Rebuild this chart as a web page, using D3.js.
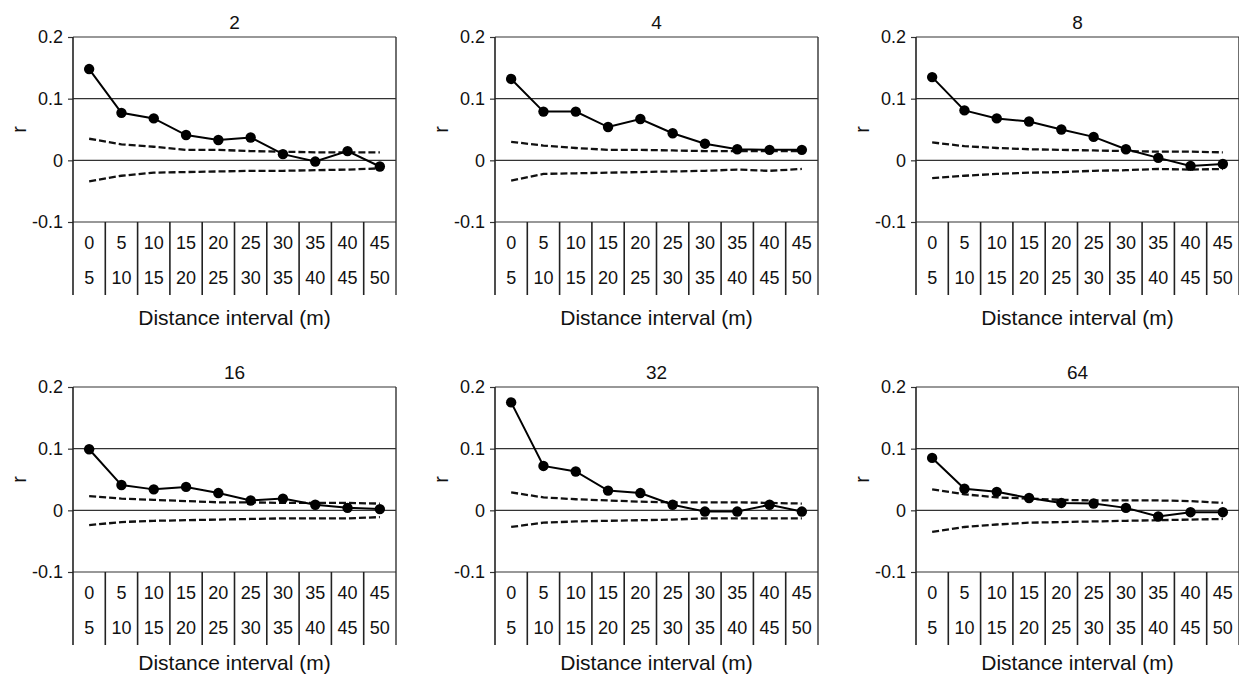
<!DOCTYPE html>
<html>
<head>
<meta charset="utf-8">
<script src="https://cdn.jsdelivr.net/npm/d3@7"></script>
<style>
  html, body { margin: 0; padding: 0; background: #fff; }
  svg { display: block; }
</style>
</head>
<body>
<div id="chart"></div>
<script>
// panel titles and distance classes
var panelNames = ['2', '4', '8', '16', '32', '64'];
var intervalFrom = [0, 5, 10, 15, 20, 25, 30, 35, 40, 45];
var intervalTo = [5, 10, 15, 20, 25, 30, 35, 40, 45, 50];
var yTicks = [-0.1, 0, 0.1, 0.2];

// observed r per panel
var r2 = [0.148, 0.077, 0.068, 0.041, 0.033, 0.037, 0.010, -0.002, 0.015, -0.010];
var r4 = [0.132, 0.079, 0.079, 0.054, 0.067, 0.044, 0.027, 0.018, 0.017, 0.017];
var r8 = [0.135, 0.081, 0.068, 0.063, 0.050, 0.038, 0.018, 0.004, -0.009, -0.006];
var r16 = [0.099, 0.041, 0.034, 0.038, 0.028, 0.016, 0.019, 0.009, 0.004, 0.002];
var r32 = [0.175, 0.072, 0.063, 0.032, 0.028, 0.009, -0.002, -0.002, 0.009, -0.002];
var r64 = [0.085, 0.035, 0.030, 0.020, 0.012, 0.011, 0.004, -0.010, -0.003, -0.003];

// upper 95% envelope
var up2 = [0.035, 0.026, 0.022, 0.017, 0.017, 0.015, 0.014, 0.013, 0.013, 0.013];
var up4 = [0.030, 0.024, 0.020, 0.017, 0.017, 0.016, 0.015, 0.015, 0.015, 0.015];
var up8 = [0.029, 0.023, 0.020, 0.018, 0.017, 0.016, 0.015, 0.014, 0.014, 0.013];
var up16 = [0.023, 0.019, 0.017, 0.015, 0.013, 0.013, 0.012, 0.012, 0.012, 0.011];
var up32 = [0.029, 0.021, 0.018, 0.016, 0.014, 0.013, 0.013, 0.013, 0.012, 0.011];
var up64 = [0.034, 0.026, 0.021, 0.019, 0.017, 0.016, 0.016, 0.016, 0.015, 0.012];

// lower 95% envelope
var lo2 = [-0.034, -0.025, -0.020, -0.019, -0.018, -0.017, -0.017, -0.016, -0.015, -0.013];
var lo4 = [-0.033, -0.022, -0.021, -0.020, -0.019, -0.018, -0.017, -0.015, -0.017, -0.014];
var lo8 = [-0.029, -0.025, -0.022, -0.020, -0.019, -0.017, -0.016, -0.014, -0.015, -0.014];
var lo16 = [-0.024, -0.019, -0.017, -0.016, -0.015, -0.014, -0.013, -0.013, -0.013, -0.011];
var lo32 = [-0.027, -0.020, -0.018, -0.017, -0.016, -0.015, -0.013, -0.013, -0.013, -0.013];
var lo64 = [-0.035, -0.027, -0.023, -0.020, -0.019, -0.018, -0.017, -0.016, -0.015, -0.014];

var observed = [r2, r4, r8, r16, r32, r64];
var uppers = [up2, up4, up8, up16, up32, up64];
var lowers = [lo2, lo4, lo8, lo16, lo32, lo64];

var W = 1239, H = 677;
var FONT = '"Liberation Sans", Arial, sans-serif';
var TXT = '#111';
var colLeft = [73, 495, 916], plotW = 323;
var rowTop = [37, 387], plotH = 185, cellH = 73;
var titleOff = [95, 90];

var svg = d3.select('#chart').append('svg').attr('width', W).attr('height', H);

panelNames.forEach(function(name, p) {
  var col = p % 3, row = Math.floor(p / 3);
  var left = colLeft[col], top = rowTop[row];
  var bottom = top + plotH, right = left + plotW;

  var x = d3.scaleBand().domain(d3.range(intervalFrom.length)).range([left, right]);
  var y = d3.scaleLinear().domain([-0.1, 0.2]).range([bottom, top]);
  var g = svg.append('g');

  // gridlines + box
  g.selectAll('line.h').data(yTicks).join('line')
    .attr('x1', left).attr('x2', right)
    .attr('y1', function(d) { return y(d); }).attr('y2', function(d) { return y(d); })
    .attr('stroke', '#333').attr('stroke-width', 1.2);
  g.append('line').attr('x1', right).attr('x2', right).attr('y1', top).attr('y2', bottom + cellH)
    .attr('stroke', '#333').attr('stroke-width', 1.4);

  // y axis
  var ax = g.append('g').attr('transform', 'translate(' + left + ',0)')
    .call(d3.axisLeft(y).tickValues(yTicks).tickSize(5).tickSizeOuter(0).tickFormat(function(d) { return String(d); }));
  ax.select('.domain').remove();
  ax.selectAll('.tick line').attr('stroke', '#333').attr('stroke-width', 1.2);
  ax.selectAll('.tick text').attr('font-family', FONT).attr('font-size', '18px').attr('fill', TXT).attr('x', -10);
  g.append('line').attr('x1', left).attr('x2', left).attr('y1', top).attr('y2', bottom + cellH)
    .attr('stroke', '#222').attr('stroke-width', 1.6);

  // category cells below the plot
  g.selectAll('line.cell').data(d3.range(1, intervalFrom.length)).join('line')
    .attr('x1', function(i) { return x(i); }).attr('x2', function(i) { return x(i); })
    .attr('y1', bottom).attr('y2', bottom + cellH)
    .attr('stroke', '#222').attr('stroke-width', 1.6);
  g.selectAll('text.from').data(intervalFrom).join('text')
    .attr('x', function(d, i) { return x(i) + x.bandwidth() / 2; }).attr('y', bottom + 21)
    .attr('text-anchor', 'middle').attr('dominant-baseline', 'central')
    .attr('font-family', FONT).attr('font-size', '18px').attr('fill', TXT)
    .text(function(d) { return d; });
  g.selectAll('text.to').data(intervalTo).join('text')
    .attr('x', function(d, i) { return x(i) + x.bandwidth() / 2; }).attr('y', bottom + 56)
    .attr('text-anchor', 'middle').attr('dominant-baseline', 'central')
    .attr('font-family', FONT).attr('font-size', '18px').attr('fill', TXT)
    .text(function(d) { return d; });

  // titles
  g.append('text').attr('x', (left + right) / 2).attr('y', top - 15)
    .attr('text-anchor', 'middle').attr('dominant-baseline', 'central')
    .attr('font-family', FONT).attr('font-size', '19px').attr('fill', TXT).text(name);
  g.append('text').attr('x', (left + right) / 2).attr('y', bottom + titleOff[row])
    .attr('text-anchor', 'middle').attr('dominant-baseline', 'central')
    .attr('font-family', FONT).attr('font-size', '21px').attr('fill', TXT).text('Distance interval (m)');
  g.append('text').attr('transform', 'translate(' + (left - 54) + ',' + ((top + bottom) / 2) + ') rotate(-90)')
    .attr('text-anchor', 'middle').attr('dominant-baseline', 'central')
    .attr('font-family', FONT).attr('font-size', '20px').attr('fill', TXT).text('r');

  var cx = function(d, i) { return x(i) + x.bandwidth() / 2; };
  var line = d3.line().x(cx).y(function(d) { return y(d); });

  // confidence envelopes
  [uppers[p], lowers[p]].forEach(function(env) {
    g.append('path').datum(env).attr('d', line).attr('fill', 'none')
      .attr('stroke', '#111').attr('stroke-width', 2.3).attr('stroke-dasharray', '7,3');
  });

  // observed correlogram
  g.append('path').datum(observed[p]).attr('d', line).attr('fill', 'none')
    .attr('stroke', '#000').attr('stroke-width', 2);
  g.selectAll('circle').data(observed[p]).join('circle')
    .attr('cx', cx).attr('cy', function(d) { return y(d); })
    .attr('r', 5.2).attr('fill', '#000');
});
</script>
</body>
</html>
